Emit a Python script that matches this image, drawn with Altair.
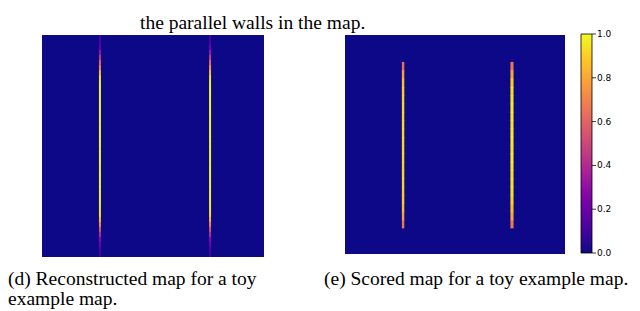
import altair as alt
import pandas as pd

# ---------------- data ----------------
# (d) reconstructed map: two vertical walls, intensity along each wall (top -> bottom)
d_wall_x = [26.1, 75.7]
d_wall_w = [0.9, 0.9]
d_wall_top = 0.0
d_wall_bottom = 100.0
d_profile_a = [0.12, 0.14, 0.20, 0.32, 0.45, 0.60, 0.72, 0.85, 0.95, 0.98,
               1.00, 0.99, 1.00, 0.99, 1.00, 0.99, 1.00, 0.98, 0.99, 1.00,
               0.99, 1.00, 0.98, 0.99, 1.00, 0.99, 0.98, 1.00, 0.99, 0.98,
               0.99, 0.98, 0.99, 0.97, 0.96, 0.95, 0.85, 0.72, 0.55, 0.40,
               0.28, 0.20, 0.14, 0.11]
d_profile_b = [0.12, 0.15, 0.22, 0.34, 0.48, 0.62, 0.75, 0.86, 0.95, 0.98,
               0.99, 1.00, 0.99, 1.00, 0.99, 1.00, 0.98, 0.99, 1.00, 0.99,
               1.00, 0.98, 0.99, 1.00, 0.99, 0.98, 1.00, 0.99, 0.98, 0.99,
               0.98, 0.99, 0.98, 0.97, 0.96, 0.94, 0.84, 0.70, 0.54, 0.40,
               0.28, 0.20, 0.14, 0.11]

# (e) scored map
e_wall_x = [26.4, 75.9]
e_wall_w = [1.1, 1.4]
e_wall_top = 12.3
e_wall_bottom = 88.3
e_profile_a = [0.64, 0.78, 0.86, 0.89, 0.90, 0.91, 0.91, 0.92, 0.91, 0.92,
               0.92, 0.91, 0.91, 0.92, 0.91, 0.90, 0.89, 0.86, 0.78, 0.66]
e_profile_b = [0.66, 0.80, 0.89, 0.93, 0.95, 0.96, 0.96, 0.96, 0.97, 0.96,
               0.96, 0.97, 0.96, 0.95, 0.95, 0.94, 0.92, 0.87, 0.80, 0.68]

cbar_ticks = [0.0, 0.2, 0.4, 0.6, 0.8, 1.0]

top_lines = ["symmetrical reflection in \u03c0 correspond to",
             "the parallel walls in the map."]
caption_d = ["(d) Reconstructed map for a toy", "example map."]
caption_e = ["(e) Scored map for a toy example map."]

# small overlap between stacked cells so no seams show between rows
SEAM = 0.3


# ---------------- build tables ----------------
def map_rows(wall_x, wall_w, profiles, top, bottom):
    rows = [{"x": 0.0, "x2": 100.0, "y": 0.0, "y2": 100.0, "v": 0.0}]
    for xc, w, prof in zip(wall_x, wall_w, profiles):
        n = len(prof)
        step = (bottom - top) / n
        for i, v in enumerate(prof):
            y2 = top + (i + 1) * step
            if i < n - 1:
                y2 += SEAM
            rows.append({"x": xc - w / 2, "x2": xc + w / 2,
                         "y": top + i * step, "y2": y2, "v": v})
    return pd.DataFrame(rows)


d_df = map_rows(d_wall_x, d_wall_w, [d_profile_a, d_profile_b], d_wall_top, d_wall_bottom)
e_df = map_rows(e_wall_x, e_wall_w, [e_profile_a, e_profile_b], e_wall_top, e_wall_bottom)

color_scale = alt.Scale(scheme="plasma", domain=[0, 1])
legend = alt.Legend(orient="none", legendX=573, legendY=26, direction="vertical",
                    gradientLength=219, gradientThickness=11, title=None,
                    labelExpr="''", gradientStrokeColor="black",
                    gradientStrokeWidth=0.8, padding=0, offset=0)


def heat(df, xr, yr):
    return alt.Chart(df).mark_rect(strokeWidth=0).encode(
        x=alt.X("x:Q", scale=alt.Scale(domain=[0, 100], range=xr), axis=None),
        x2="x2:Q",
        y=alt.Y("y:Q", scale=alt.Scale(domain=[0, 100], range=yr), axis=None),
        y2="y2:Q",
        color=alt.Color("v:Q", scale=color_scale, legend=legend),
    )


d_layer = heat(d_df, [34, 256], [27, 249])
e_layer = heat(e_df, [337, 557], [27, 246])

cbar_scale = alt.Scale(domain=[0, 1], range=[245, 26])
tick_df = pd.DataFrame({"t": cbar_ticks})
ticks = alt.Chart(tick_df).mark_rule(color="black", strokeWidth=0.8).encode(
    y=alt.Y("t:Q", scale=cbar_scale, axis=None),
    x=alt.value(584), x2=alt.value(588),
)
tick_labels = alt.Chart(tick_df).mark_text(
    font="DejaVu Sans", fontSize=9, align="left", baseline="middle", color="black"
).encode(
    y=alt.Y("t:Q", scale=cbar_scale, axis=None),
    x=alt.value(589),
    text=alt.Text("t:Q", format=".1f"),
)

serif = "Liberation Serif"


def text_layer(lines, x, y, size=19.5, lh=19.5):
    return alt.Chart(pd.DataFrame({"t": ["\n".join(lines)]})).mark_text(
        font=serif, fontSize=size, align="left", baseline="alphabetic",
        lineBreak="\n", lineHeight=lh, color="black",
    ).encode(text="t:N", x=alt.value(x), y=alt.value(y))


top_text = text_layer(top_lines, 132, -4, lh=25)
cap_d = text_layer(caption_d, 0, 277.2)
cap_e = text_layer(caption_e, 316, 277.2)

chart = alt.layer(d_layer, e_layer, ticks, tick_labels, top_text, cap_d, cap_e).resolve_scale(
    x="independent", y="independent"
).properties(
    width=624, height=303, autosize=alt.AutoSizeParams(type="none"), padding=0
).configure_view(stroke=None)

chart.save("out.html", embed_options={"renderer": "svg", "actions": False})
